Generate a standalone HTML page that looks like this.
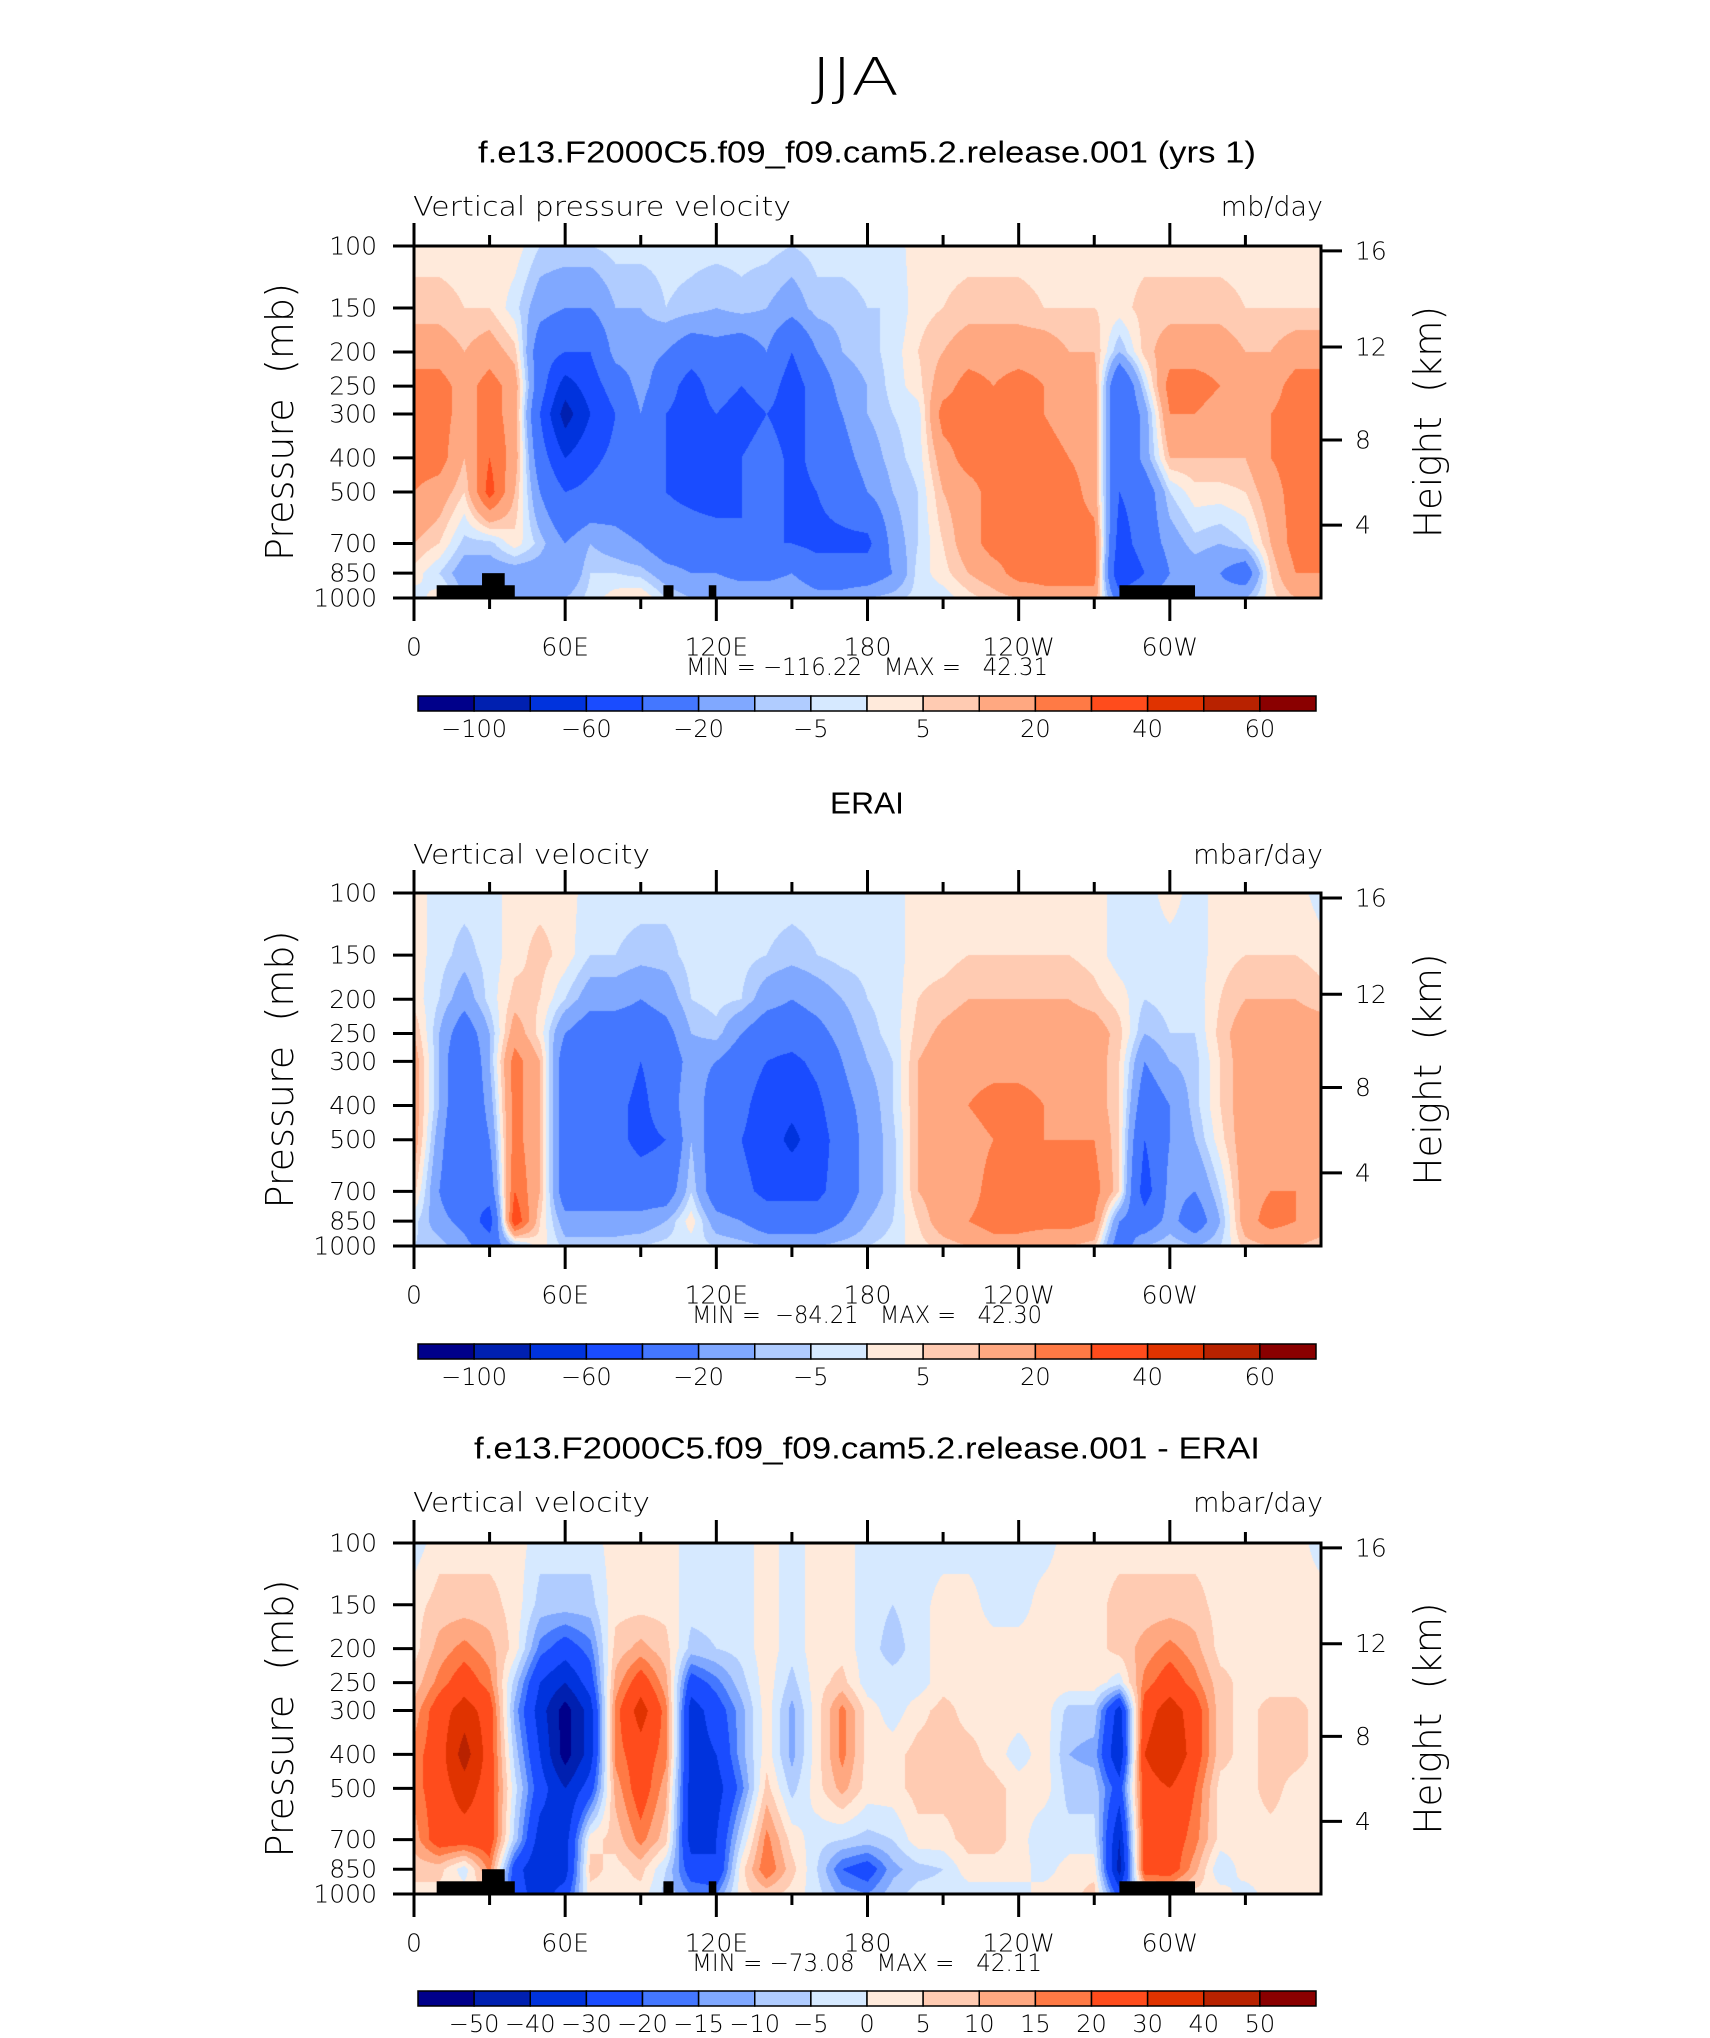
<!DOCTYPE html>
<html><head><meta charset="utf-8">
<style>
html,body{margin:0;padding:0;background:#fff;}
#wrap{position:relative;width:1710px;height:2038px;overflow:hidden;background:#fff;}
canvas{position:absolute;}
svg{position:absolute;left:0;top:0;}
text{white-space:pre;}
</style></head>
<body>
<div id="wrap">
<canvas id="c1"></canvas>
<canvas id="c2"></canvas>
<canvas id="c3"></canvas>
<svg id="ov" width="1710" height="2038"></svg>
</div>
<script>
// ---- data ----
const pressureLevels = [100,150,200,250,300,400,500,700,850,1000];
const lonColumns = [0,10,20,30,40,50,60,70,80,90,100,110,120,130,140,150,160,170,180,190,200,210,220,230,240,250,260,270,280,290,300,310,320,330,340,350,360];
const levelsAbs = [-100,-80,-60,-40,-20,-10,-5,0,5,10,20,30,40,50,60];
const levelsDiff = [-50,-40,-30,-20,-15,-10,-5,0,5,10,15,20,30,40,50];
const labelsAbs = ["−100","","−60","","−20","","−5","","5","","20","","40","","60"];
const labelsDiff = ["−50","−40","−30","−20","−15","−10","−5","0","5","10","15","20","30","40","50"];
const palette = ["#00008a","#0020b0","#0033dd","#1a4cff","#4477ff","#80a8ff","#b0ccff","#d6e9ff","#ffeadb","#ffcbb2","#ffa881","#ff7a45","#ff4c1c","#e03300","#b82200","#8a0000"];
const pTicks = [100,150,200,250,300,400,500,700,850,1000];
const hTicks = [16,12,8,4];
const hTickFrac = [0.014,0.287,0.551,0.793];
const lonTickLabels = ["0","60E","120E","180","120W","60W"];
const modelField = [
[3,7,15,25,25,25,20,10,3,-3],[3,7,15,25,25,25,15,5,-5,3],[3,5,10,15,15,10,5,-7,-15,-10],
[3,5,15,25,25,30,35,-7,-15,-20],[3,-3,7,15,15,15,10,3,-15,-20],[-5,-15,-30,-30,-40,-30,-20,-7,-15,-15],
[-5,-20,-40,-70,-90,-60,-40,-20,-20,-10],[-5,-20,-40,-50,-60,-45,-35,-10,-5,-3],[-3,-10,-15,-30,-40,-35,-30,-15,-5,3],
[-3,-10,-15,-15,-20,-30,-35,-20,-7,5],[-3,-5,-20,-30,-40,-40,-40,-30,-15,-5],[-3,-7,-30,-50,-50,-50,-45,-30,-20,-10],
[-3,-10,-25,-30,-40,-45,-50,-30,-20,-10],[-3,-7,-30,-40,-50,-40,-40,-40,-25,-10],[-3,-10,-20,-30,-40,-30,-30,-40,-25,-10],
[-5,-15,-40,-50,-50,-45,-45,-40,-20,-10],[-3,-7,-20,-30,-30,-35,-40,-45,-30,-15],[-3,-7,-10,-15,-20,-25,-30,-45,-30,-15],
[-3,-5,-7,-10,-10,-15,-20,-45,-30,-10],[-3,-5,-3,-3,-5,-7,-10,-15,-20,-7],[3,3,5,3,-3,-3,-5,-5,-3,-3],
[3,5,10,15,25,15,10,5,3,-3],[3,7,15,25,25,25,15,15,10,3],[3,7,15,20,25,25,25,25,15,7],
[3,7,15,25,25,25,25,25,25,10],[3,5,15,20,20,25,25,25,25,15],[3,5,10,15,15,20,25,25,25,15],
[3,5,10,15,15,15,15,25,25,15],[3,3,-10,-40,-40,-40,-40,-50,-60,-30],[3,7,7,-5,-15,-15,-30,-30,-40,-20],
[3,7,15,25,20,10,-5,-15,-20,-10],[3,7,15,25,20,10,3,-7,-15,-10],[3,7,15,20,15,10,3,-10,-20,-15],
[3,5,10,15,15,10,5,-5,-30,-10],[3,5,10,15,20,20,15,10,5,3],[3,5,15,25,25,25,25,25,20,10],
[3,5,15,25,25,25,25,25,20,10]];
const eraiField = [
[3,3,3,10,15,15,15,7,-3,-5],[-3,-3,-5,-10,-10,-10,-15,-20,-15,-7],[-3,-7,-15,-30,-40,-40,-40,-40,-25,-15],
[-3,-3,-3,-10,-10,-15,-20,-30,-50,-30],[3,3,7,15,25,25,25,30,40,-10],[3,7,5,3,10,10,10,10,5,3],
[3,3,-5,-20,-30,-30,-30,-30,-15,-7],[-3,-5,-15,-30,-30,-30,-30,-30,-15,-7],[-3,-5,-15,-30,-30,-35,-35,-30,-15,-7],
[-3,-7,-20,-30,-40,-45,-45,-30,-15,-5],[-3,-7,-15,-25,-30,-30,-40,-30,-10,-3],[-3,-3,-5,-10,-15,-10,-10,-5,3,-3],
[-3,-3,-3,-7,-20,-30,-30,-30,-15,-5],[-3,-3,-5,-20,-30,-35,-40,-35,-20,-7],[-3,-5,-15,-30,-40,-50,-50,-45,-30,-10],
[-3,-7,-20,-30,-45,-55,-65,-45,-30,-10],[-3,-5,-15,-25,-35,-45,-50,-45,-30,-10],[-3,-3,-10,-15,-20,-25,-30,-30,-20,-7],
[-3,-3,-5,-7,-10,-15,-15,-15,-10,-5],[-3,-3,-3,-3,-5,-5,-7,-7,-5,-3],[3,3,5,7,10,10,10,10,5,3],
[3,3,7,12,15,15,15,15,15,7],[3,5,10,15,15,20,15,15,20,10],[3,5,10,15,15,25,20,25,25,15],
[3,5,10,15,15,25,20,25,25,15],[3,5,10,15,15,20,20,25,25,10],[3,5,10,15,15,15,20,25,25,10],
[3,3,7,15,15,15,20,25,20,7],[-3,-3,3,7,5,5,5,5,-20,-30],[-3,-3,-5,-10,-20,-30,-40,-50,-30,-10],
[3,-3,-3,-5,-10,-20,-20,-15,-15,-5],[-3,-3,-3,-5,-7,-7,-10,-20,-30,-10],[3,3,5,7,5,5,3,-5,-10,-5],
[3,5,10,15,15,15,15,15,15,7],[3,5,10,15,15,15,15,20,25,10],[3,5,10,15,15,15,15,20,20,10],
[-3,3,7,15,15,15,15,15,15,7]];
const diffField = [
[-3,3,3,7,12,17,17,12,7,3],[3,7,12,17,25,25,25,25,7,3],[3,7,17,25,35,45,35,25,-3,3],
[3,7,12,17,25,25,25,25,17,3],[3,3,3,-7,-12,-7,-3,-7,-25,-25],[-3,-7,-17,-30,-35,-30,-25,-35,-40,-35],
[-3,-7,-25,-40,-55,-55,-40,-35,-35,-25],[-3,-7,-17,-25,-35,-35,-25,3,7,3],[3,3,7,12,17,17,12,7,3,3],
[3,3,12,25,35,25,25,17,7,3],[3,3,7,12,17,17,12,7,-5,-7],[-3,-3,-7,-25,-35,-35,-35,-35,-25,-15],
[-3,-3,-5,-17,-25,-30,-35,-30,-30,-15],[-3,-3,-3,-7,-12,-12,-17,-5,3,3],[3,3,3,3,3,3,7,17,20,7],
[-3,-3,-3,-7,-12,-12,-7,3,7,3],[3,3,3,3,3,3,3,-3,-5,-3],[3,3,3,7,17,17,12,-5,-20,-12],
[-3,-3,-3,-3,3,3,3,-7,-25,-15],[-3,-5,-7,-3,-3,3,3,-5,-12,-7],[-3,-3,-3,-3,3,7,7,3,-7,-3],
[-3,3,3,3,7,7,7,3,-5,-3],[-3,3,3,3,3,7,7,7,3,-3],[-3,-3,3,3,3,3,7,7,3,-3],
[-3,-3,3,3,3,-3,3,3,3,-3],[-3,3,3,3,3,3,3,-5,-3,3],[3,3,3,3,-7,-10,-7,-3,3,3],
[3,3,3,3,-7,-12,-7,-3,3,7],[3,7,7,-3,-35,-40,-25,-40,-45,-25],[3,7,12,17,25,30,25,25,25,3],
[3,7,17,25,35,40,30,25,25,7],[3,7,12,17,25,25,20,17,12,3],[3,3,3,7,7,7,3,3,-5,3],
[3,3,3,3,3,3,3,3,3,-3],[3,3,3,3,7,7,7,3,3,3],[3,3,3,3,7,7,3,3,3,3],
[-3,3,3,3,3,3,3,3,3,3]];
const topoLon0 = [9,27,99,117,280];
const topoLon1 = [40,36,103,120,310];
const topoPTop = [920,850,920,920,920];

const X0=414, X1=1321;
const panels=[
 {top:246,bot:598,field:modelField,levels:levelsAbs,labels:labelsAbs,topo:true,canvas:'c1',
  title:"f.e13.F2000C5.f09_f09.cam5.2.release.001 (yrs 1)",titleY:152,left:"Vertical pressure velocity",right:"mb/day",lblY:207,
  minmax:"MIN = −116.22   MAX =   42.31",mmW:362,cbY:696},
 {top:893,bot:1246,field:eraiField,levels:levelsAbs,labels:labelsAbs,topo:false,canvas:'c2',
  title:"ERAI",titleY:803,left:"Vertical velocity",right:"mbar/day",lblY:855,
  minmax:"MIN =  −84.21   MAX =   42.30",mmW:350,cbY:1344},
 {top:1543,bot:1894,field:diffField,levels:levelsDiff,labels:labelsDiff,topo:true,canvas:'c3',
  title:"f.e13.F2000C5.f09_f09.cam5.2.release.001 - ERAI",titleY:1448,left:"Vertical velocity",right:"mbar/day",lblY:1503,
  minmax:"MIN = −73.08   MAX =   42.11",mmW:350,cbY:1991}
];
function xOf(lon){return X0+(X1-X0)*lon/360;}
function yOf(p,pan){return pan.top+(pan.bot-pan.top)*Math.log(p/100)/Math.log(10);}
function colorIdx(v,levels){let i=0;while(i<levels.length&&v>=levels[i])i++;return i;}
function hex(c){return [parseInt(c.substr(1,2),16),parseInt(c.substr(3,2),16),parseInt(c.substr(5,2),16)];}
const pal=palette.map(hex);
const logP=pressureLevels.map(p=>Math.log(p));

panels.forEach(pan=>{
  const cv=document.getElementById(pan.canvas);
  const W=X1-X0, H=pan.bot-pan.top;
  cv.width=W; cv.height=H; cv.style.left=X0+'px'; cv.style.top=pan.top+'px';
  const ctx=cv.getContext('2d');
  const img=ctx.createImageData(W,H);
  const nL=lonColumns.length;
  for(let py=0;py<H;py++){
    const lp=Math.log(100)+(py+0.5)/H*Math.log(10);
    let r=0; while(r<logP.length-2&&lp>logP[r+1])r++;
    let fr=(lp-logP[r])/(logP[r+1]-logP[r]); fr=Math.max(0,Math.min(1,fr));
    for(let px=0;px<W;px++){
      const lon=(px+0.5)/W*360;
      let c=Math.min(nL-2,Math.floor(lon/10)); let fc=(lon-lonColumns[c])/10;
      const f=pan.field;
      const v=(f[c][r]*(1-fc)+f[c+1][r]*fc)*(1-fr)+(f[c][r+1]*(1-fc)+f[c+1][r+1]*fc)*fr;
      const col=pal[colorIdx(v,pan.levels)];
      const k=(py*W+px)*4; img.data[k]=col[0];img.data[k+1]=col[1];img.data[k+2]=col[2];img.data[k+3]=255;
    }
  }
  ctx.putImageData(img,0,0);
});

const NS='http://www.w3.org/2000/svg';
const svg=document.getElementById('ov');
function mk(tag,attrs,parent){const e=document.createElementNS(NS,tag);for(const k in attrs)e.setAttribute(k,attrs[k]);(parent||svg).appendChild(e);return e;}
function txt(s,x,y,size,anchor,parent,extra){const t=mk('text',Object.assign({x:x,y:y,'font-size':size,'text-anchor':anchor||'middle','font-family':'"Liberation Sans", "DejaVu Sans", sans-serif','dominant-baseline':'central',fill:'#000'},extra||{}),parent);t.setAttributeNS('http://www.w3.org/XML/1998/namespace','xml:space','preserve');t.textContent=s;return t;}

const main=txt("JJA",855,78,52,'middle',svg,{'font-weight':'300','font-family':'"DejaVu Sans", "Liberation Sans", sans-serif','textLength':88,'lengthAdjust':'spacingAndGlyphs'});



panels.forEach((pan,pi)=>{
  const g=mk('g',{});
  
  
  const tw = pi===1?74:(pi===0?778:786);
  const t=txt(pan.title,867,pan.titleY,31,'middle',g,{'textLength':tw,'lengthAdjust':'spacingAndGlyphs'});
  
  
  const l=txt(pan.left,413,pan.lblY,27,'start',g,{'font-family':'"DejaVu Sans", sans-serif','font-weight':'300','textLength':pi===0?378:237,'lengthAdjust':'spacingAndGlyphs'});
  
  
  const rr=txt(pan.right,1323,pan.lblY,27,'end',g,{'font-family':'"DejaVu Sans", sans-serif','font-weight':'300'});
  
  
  if(pan.topo){
    for(let i=0;i<topoLon0.length;i++){
      const r=mk('rect',{x:xOf(topoLon0[i]),y:yOf(topoPTop[i],pan),width:xOf(topoLon1[i])-xOf(topoLon0[i]),height:pan.bot-yOf(topoPTop[i],pan),fill:'#000'},g);
      
      
    }
  }
  const fr=mk('rect',{x:X0,y:pan.top,width:X1-X0,height:pan.bot-pan.top,fill:'none',stroke:'#000','stroke-width':3},g);
  
  
  for(let lon=0;lon<360;lon+=30){
    const major=lon%60===0, len=major?23:11, x=xOf(lon);
    mk('line',{x1:x,y1:pan.top,x2:x,y2:pan.top-len,stroke:'#000','stroke-width':3},g);
    mk('line',{x1:x,y1:pan.bot,x2:x,y2:pan.bot+len,stroke:'#000','stroke-width':3},g);
    if(major){
      const lt=txt(lonTickLabels[lon/60],x,pan.bot+49,25,'middle',g,{'font-family':'"DejaVu Sans", sans-serif','font-weight':'300'});
      
      
    }
  }
  pTicks.forEach(p=>{
    const y=yOf(p,pan);
    mk('line',{x1:X0-21,y1:y,x2:X0,y2:y,stroke:'#000','stroke-width':3},g);
    const pt=txt(String(p),377,y,25,'end',g,{'font-family':'"DejaVu Sans", sans-serif','font-weight':'300'});
    
    
  });
  hTicks.forEach((h,i)=>{
    const y=pan.top+(pan.bot-pan.top)*hTickFrac[i];
    mk('line',{x1:X1,y1:y,x2:X1+21,y2:y,stroke:'#000','stroke-width':3},g);
    const ht=txt(String(h),1355,y,25,'start',g,{'font-family':'"DejaVu Sans", sans-serif','font-weight':'300'});
    
    
  });
  const cy=(pan.top+pan.bot)/2;
  const ya=txt("Pressure  (mb)",0,0,38,'middle',g,{'font-family':'"DejaVu Sans", sans-serif','font-weight':'300',transform:`translate(280,${cy}) rotate(-90)`,'textLength':278,'lengthAdjust':'spacingAndGlyphs'});
  
  
  const ya2=txt("Height  (km)",0,0,38,'middle',g,{'font-family':'"DejaVu Sans", sans-serif','font-weight':'300',transform:`translate(1428,${cy}) rotate(-90)`,'textLength':232,'lengthAdjust':'spacingAndGlyphs'});
  
  
  const mm=txt(pan.minmax,867,pan.bot+69,24,'middle',g,{'font-family':'"DejaVu Sans", sans-serif','font-weight':'300','textLength':pan.mmW,'lengthAdjust':'spacingAndGlyphs'});
  
  
  const cbX0=418, cbX1=1316, n=palette.length, bw=(cbX1-cbX0)/n;
  for(let i=0;i<n;i++){
    const r=mk('rect',{x:cbX0+i*bw,y:pan.cbY,width:bw,height:15,fill:palette[i],stroke:'#000','stroke-width':1.5},g);
    
    
  }
  pan.labels.forEach((s,i)=>{
    if(!s)return;
    const ct=txt(s,cbX0+(i+1)*bw,pan.cbY+33,24,'middle',g,{'font-family':'"DejaVu Sans", sans-serif','font-weight':'300'});
    
    
  });
});
</script>
</body></html>
